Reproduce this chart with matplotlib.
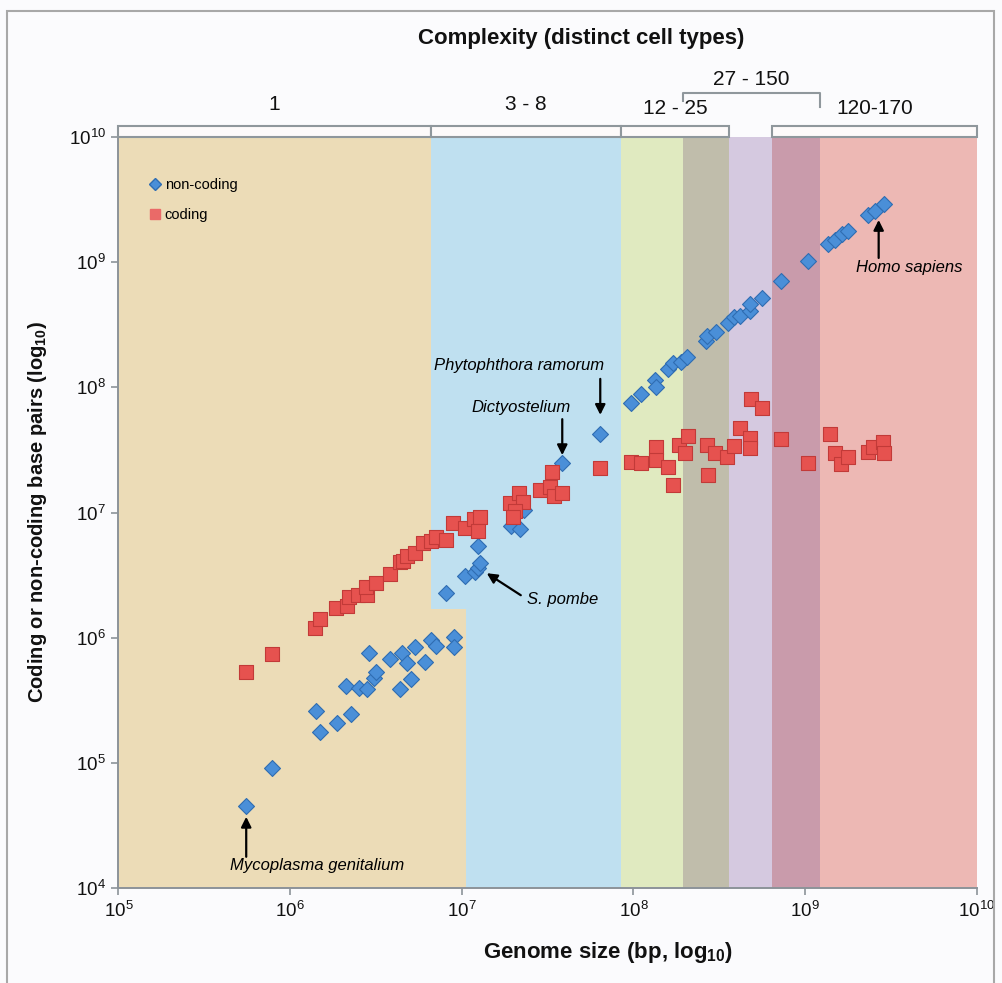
import numpy as np
import matplotlib
matplotlib.use("Agg")
import matplotlib.pyplot as plt
from matplotlib.lines import Line2D
from matplotlib.patches import Rectangle
from matplotlib.transforms import offset_copy

plt.rcParams['font.family'] = ['Liberation Sans', 'DejaVu Sans']
plt.rcParams['mathtext.fontset'] = 'custom'
plt.rcParams['mathtext.rm'] = 'Liberation Sans'
plt.rcParams['mathtext.bf'] = 'Liberation Sans:bold'

# genome size (bp) vs non-coding bp
noncoding_genome = [5.55e5, 7.87e5, 1.41e6, 1.50e6, 1.87e6, 2.26e6, 2.12e6, 2.51e6, 2.81e6, 2.88e6,
                    3.10e6, 3.18e6, 3.83e6, 4.34e6, 4.50e6, 4.81e6, 5.08e6, 5.36e6, 6.13e6, 6.64e6,
                    7.10e6, 8.96e6, 8.96e6, 8.12e6, 1.05e7, 1.20e7, 1.24e7, 1.28e7, 1.24e7, 1.94e7,
                    2.17e7, 2.32e7, 3.85e7, 6.41e7, 9.72e7, 1.10e8, 1.34e8, 1.36e8, 1.59e8, 1.71e8,
                    1.90e8, 2.05e8, 2.64e8, 2.68e8, 3.01e8, 3.56e8, 3.84e8, 4.16e8, 4.75e8, 4.80e8,
                    5.64e8, 7.28e8, 1.04e9, 1.36e9, 1.49e9, 1.65e9, 1.78e9, 2.33e9, 2.55e9, 2.87e9]
noncoding_bp = [4.54e4, 9.08e4, 2.62e5, 1.78e5, 2.10e5, 2.45e5, 4.12e5, 3.99e5, 3.88e5, 7.52e5,
                4.75e5, 5.30e5, 6.78e5, 3.90e5, 7.52e5, 6.25e5, 4.67e5, 8.49e5, 6.44e5, 9.60e5,
                8.65e5, 1.02e6, 8.40e5, 2.29e6, 3.12e6, 3.36e6, 3.59e6, 3.96e6, 5.41e6, 7.82e6,
                7.39e6, 1.05e7, 2.48e7, 4.25e7, 7.55e7, 8.81e7, 1.15e8, 1.01e8, 1.40e8, 1.56e8,
                1.60e8, 1.74e8, 2.35e8, 2.59e8, 2.75e8, 3.25e8, 3.67e8, 3.72e8, 4.08e8, 4.64e8,
                5.15e8, 7.12e8, 1.02e9, 1.39e9, 1.50e9, 1.67e9, 1.79e9, 2.38e9, 2.58e9, 2.92e9]

# genome size (bp) vs coding bp
coding_genome = [5.55e5, 7.87e5, 1.40e6, 1.50e6, 1.86e6, 2.14e6, 2.20e6, 2.48e6, 2.81e6, 2.78e6,
                 3.18e6, 3.80e6, 4.38e6, 4.54e6, 4.81e6, 5.31e6, 5.94e6, 6.64e6, 7.04e6, 8.12e6,
                 8.87e6, 1.04e7, 1.18e7, 1.27e7, 1.24e7, 1.90e7, 2.15e7, 2.27e7, 2.03e7, 2.00e7,
                 2.87e7, 3.25e7, 3.37e7, 3.43e7, 3.85e7, 6.35e7, 9.72e7, 1.11e8, 1.35e8, 1.35e8,
                 1.59e8, 1.71e8, 1.84e8, 1.99e8, 2.08e8, 2.72e8, 2.68e8, 2.97e8, 3.51e8, 3.85e8,
                 4.16e8, 4.75e8, 4.80e8, 4.82e8, 5.64e8, 7.21e8, 1.04e9, 1.39e9, 1.49e9, 1.63e9,
                 1.78e9, 2.33e9, 2.49e9, 2.84e9, 2.87e9]
coding_bp = [5.30e5, 7.38e5, 1.19e6, 1.41e6, 1.72e6, 1.79e6, 2.10e6, 2.20e6, 2.20e6, 2.53e6,
             2.72e6, 3.23e6, 4.05e6, 4.13e6, 4.53e6, 4.73e6, 5.69e6, 5.97e6, 6.35e6, 6.04e6,
             8.30e6, 7.50e6, 8.94e6, 9.23e6, 7.13e6, 1.19e7, 1.44e7, 1.22e7, 1.02e7, 9.27e6,
             1.52e7, 1.61e7, 2.10e7, 1.36e7, 1.43e7, 2.26e7, 2.55e7, 2.48e7, 3.36e7, 2.63e7,
             2.33e7, 1.66e7, 3.47e7, 3.01e7, 4.09e7, 2.00e7, 3.47e7, 3.01e7, 2.77e7, 3.42e7,
             4.71e7, 3.96e7, 3.26e7, 8.04e7, 6.81e7, 3.87e7, 2.48e7, 4.22e7, 3.01e7, 2.45e7,
             2.77e7, 3.06e7, 3.36e7, 3.68e7, 3.01e7]

# complexity bands along genome size
band_edges = [1e5, 6.58e6, 8.5e7, 1.95e8, 3.6e8, 6.4e8, 1.22e9, 1e10]
band_colors = ['#ecdcb7', '#bfe0f0', '#e0eac0', '#c0bdab', '#d5c9e0', '#c99bab', '#edb8b4']
notch_x = [6.58e6, 1.06e7]   # tan area reaches further right below notch_y
notch_y = 1.7e6

bracket_labels = ['1', '3 - 8', '12 - 25', '120-170']
bracket_spans = [(1e5, 6.58e6), (6.58e6, 8.5e7), (8.5e7, 3.6e8), (6.4e8, 1e10)]
upper_label = '27 - 150'
upper_span = (1.95e8, 1.22e9)

annot_names = ['Mycoplasma genitalium', 'S. pombe', 'Dictyostelium', 'Phytophthora ramorum', 'Homo sapiens']
annot_genome = [5.55e5, 1.24e7, 3.85e7, 6.41e7, 2.87e9]

fig = plt.figure(figsize=(10.03, 9.83), dpi=100)
fig.patch.set_facecolor('#fbfbfd')
ax = fig.add_axes([0.1181, 0.0966, 0.8557, 0.764])
ax.set_xscale('log')
ax.set_yscale('log')
ax.set_xlim(1e5, 1e10)
ax.set_ylim(1e4, 1e10)
ax.set_facecolor('#fbfbfd')

# outer frame
fig.patches.append(Rectangle((7 / 1003, -0.05), 987 / 1003, 1.05 - 11 / 983,
                             transform=fig.transFigure, fill=False, ec='#a8a8a8', lw=1.5))

for i in range(len(band_colors)):
    ax.axvspan(band_edges[i], band_edges[i + 1], color=band_colors[i], lw=0, zorder=0)
ax.fill_between(notch_x, 1e4, notch_y, color=band_colors[0], lw=0, zorder=0.5)

# brackets above the plot
trans = ax.get_xaxis_transform()
for lab, (x0, x1) in zip(bracket_labels, bracket_spans):
    ax.add_patch(Rectangle((x0, 1.0), x1 - x0, 0.0146, transform=trans, clip_on=False,
                           fc='#fdfafa', ec='#8f979c', lw=1.5, zorder=3))
    xm = np.sqrt(x0 * x1)
    yt = 1.031 if lab in ('1', '3 - 8') else 1.026
    ax.text(xm, yt, lab, transform=trans, ha='center', va='bottom', fontsize=15, color='#111111')
ax.plot([upper_span[0], upper_span[0], upper_span[1], upper_span[1]], [1.048, 1.0586, 1.0586, 1.040],
        transform=trans, clip_on=False, color='#8f979c', lw=1.5)
ax.text(np.sqrt(upper_span[0] * upper_span[1]), 1.064, upper_label, transform=trans,
        ha='center', va='bottom', fontsize=15, color='#111111')

ax.scatter(noncoding_genome, noncoding_bp, marker='D', s=66, c='#4a8fd8', edgecolors='#2f6db2',
           linewidths=0.8, zorder=4)
ax.scatter(coding_genome, coding_bp, marker='s', s=115, c='#e6524f', edgecolors='#c23a38',
           linewidths=0.8, zorder=5)

# arrows and species names
def px(dx, dy):
    return offset_copy(ax.transData, fig=fig, x=dx, y=dy, units='dots')

arrow_tail = [(0, -51), (43, -27), (0, 44), (0, 55), (-5, -54)]
arrow_tip = [(0, -11), (9, -5), (0, 8), (0, 19), (-5, -16)]
text_off = [(71, -60), (49, -31), (-41, 56), (-81, 68), (26, -64)]
text_ha = ['center', 'left', 'center', 'center', 'center']
for name, g, tl, tp, to, ha in zip(annot_names, annot_genome, arrow_tail, arrow_tip, text_off, text_ha):
    y = noncoding_bp[noncoding_genome.index(g)]
    ax.annotate('', xy=(g, y), xycoords=px(*tp), xytext=(g, y), textcoords=px(*tl),
                arrowprops=dict(arrowstyle='-|>', color='black', lw=1.6, shrinkA=0, shrinkB=0,
                                mutation_scale=15), zorder=6)
    ax.annotate(name, xy=(g, y), xytext=to, textcoords='offset pixels', ha=ha, va='center',
                fontsize=12, style='italic', zorder=6)

handles = [Line2D([], [], marker='D', ls='none', ms=6, mfc='#4a8fd8', mec='#2f6db2', label='non-coding'),
           Line2D([], [], marker='s', ls='none', ms=7, mfc='#ea6a68', mec='#ea6a68', label='coding')]
ax.legend(handles=handles, loc='upper left', bbox_to_anchor=(0.02, 0.963), frameon=False,
          prop={'size': 10.5}, handlelength=0.8, handletextpad=0.3, labelspacing=1.1)

for side in ('top', 'right'):
    ax.spines[side].set_visible(False)
for side in ('left', 'bottom'):
    ax.spines[side].set_color('#8c9399')
    ax.spines[side].set_linewidth(1.4)
ax.minorticks_off()
ax.set_xticks([1e5, 1e6, 1e7, 1e8, 1e9, 1e10])
ax.set_yticks([1e4, 1e5, 1e6, 1e7, 1e8, 1e9, 1e10])
ax.tick_params(direction='out', length=5, width=1.2, color='#8c9399', labelsize=13.5,
               labelcolor='#111111', pad=4)

fig.text(0.579, 0.961, 'Complexity (distinct cell types)', ha='center', va='center',
         fontsize=16, fontweight='bold', color='#111111')
fig.text(0.606, 0.0315, r'Genome size (bp, log$_{\mathbf{10}}$)', ha='center', va='center',
         fontsize=16, fontweight='bold', color='#111111')
fig.text(0.037, 0.479, r'Coding or non-coding base pairs (log$_{\mathbf{10}}$)', ha='center', va='center',
         rotation=90, fontsize=14.5, fontweight='bold', color='#111111')

fig.savefig('out.png', dpi=100, facecolor=fig.get_facecolor())
